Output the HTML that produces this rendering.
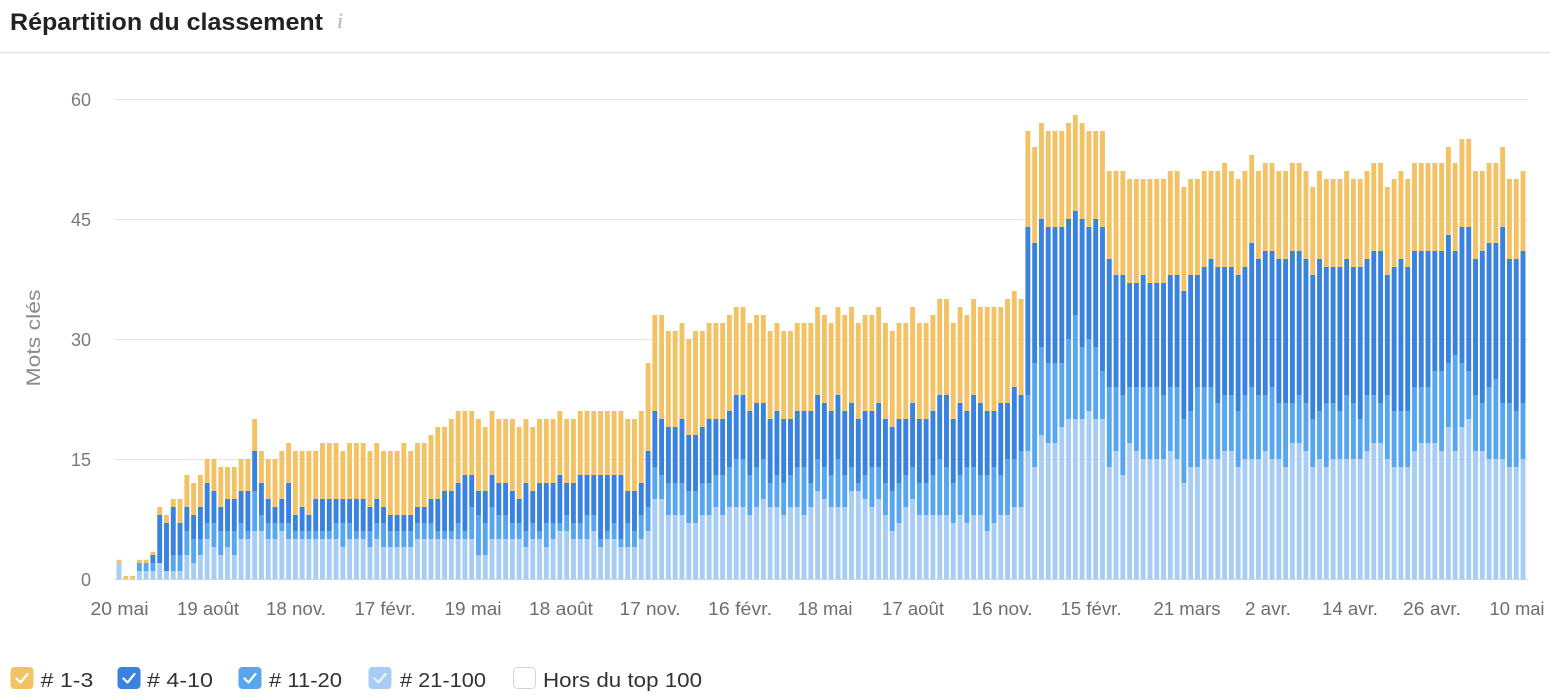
<!DOCTYPE html>
<html>
<head>
<meta charset="utf-8">
<style>
  html,body{margin:0;padding:0;background:#fff;}
  body{width:1550px;height:700px;overflow:hidden;}
  svg{display:block;}
  text{font-family:"Liberation Sans",sans-serif;}
</style>
</head>
<body>
<svg id="chart" width="1550" height="700" viewBox="0 0 1550 700" xmlns="http://www.w3.org/2000/svg">
  <rect x="0" y="0" width="1550" height="700" fill="#ffffff"/>
  <!-- Title -->
  <text x="10" y="30" font-size="24" font-weight="bold" fill="#222222" textLength="313" lengthAdjust="spacingAndGlyphs">Répartition du classement</text>
  <text x="337" y="28" font-size="22" font-style="italic" fill="#b3b3b3" style="font-family:'Liberation Serif',serif;">i</text>
  <line x1="0" y1="52.5" x2="1550" y2="52.5" stroke="#e4e4e4" stroke-width="1.5"/>

  <!-- Gridlines -->
  <g stroke="#e3e7ec" stroke-width="1">
    <line x1="115" y1="99.5" x2="1528" y2="99.5"/>
    <line x1="115" y1="219.5" x2="1528" y2="219.5"/>
    <line x1="115" y1="339.5" x2="1528" y2="339.5"/>
    <line x1="115" y1="459.5" x2="1528" y2="459.5"/>
  </g>
  <line x1="115" y1="579.5" x2="1528" y2="579.5" stroke="#c9d5e3" stroke-width="1"/>

  <!-- Y labels -->
  <g font-size="18" fill="#7a7a7a" text-anchor="end">
    <text x="91" y="106">60</text>
    <text x="91" y="226">45</text>
    <text x="91" y="346">30</text>
    <text x="91" y="466">15</text>
    <text x="91" y="586">0</text>
  </g>
  <text transform="translate(40,338) rotate(-90)" font-size="19" fill="#8a8a8a" text-anchor="middle" textLength="97" lengthAdjust="spacingAndGlyphs">Mots clés</text>

  <g id="bars"></g>

  <!-- X labels -->
  <g font-size="18" fill="#6e6e6e" text-anchor="middle">
    <text x="119.5" y="615" textLength="58" lengthAdjust="spacingAndGlyphs">20 mai</text>
    <text x="208" y="615" textLength="62" lengthAdjust="spacingAndGlyphs">19 août</text>
    <text x="296" y="615" textLength="60" lengthAdjust="spacingAndGlyphs">18 nov.</text>
    <text x="385" y="615" textLength="61" lengthAdjust="spacingAndGlyphs">17 févr.</text>
    <text x="473" y="615" textLength="57" lengthAdjust="spacingAndGlyphs">19 mai</text>
    <text x="561" y="615" textLength="64" lengthAdjust="spacingAndGlyphs">18 août</text>
    <text x="650" y="615" textLength="61" lengthAdjust="spacingAndGlyphs">17 nov.</text>
    <text x="740" y="615" textLength="64" lengthAdjust="spacingAndGlyphs">16 févr.</text>
    <text x="825" y="615" textLength="55" lengthAdjust="spacingAndGlyphs">18 mai</text>
    <text x="913" y="615" textLength="62" lengthAdjust="spacingAndGlyphs">17 août</text>
    <text x="1002" y="615" textLength="61" lengthAdjust="spacingAndGlyphs">16 nov.</text>
    <text x="1091" y="615" textLength="61" lengthAdjust="spacingAndGlyphs">15 févr.</text>
    <text x="1187" y="615" textLength="67" lengthAdjust="spacingAndGlyphs">21 mars</text>
    <text x="1268" y="615" textLength="46" lengthAdjust="spacingAndGlyphs">2 avr.</text>
    <text x="1350" y="615" textLength="56" lengthAdjust="spacingAndGlyphs">14 avr.</text>
    <text x="1432" y="615" textLength="58" lengthAdjust="spacingAndGlyphs">26 avr.</text>
    <text x="1517" y="615" textLength="55" lengthAdjust="spacingAndGlyphs">10 mai</text>
  </g>

  <!-- Legend -->
  <g>
    <rect x="10.5" y="667" width="23" height="22" rx="4" fill="#F3C265"/>
    <polyline points="16.5,678.5 20.5,682.5 27.5,674" fill="none" stroke="#ffffff" stroke-width="2.2" stroke-linecap="round" stroke-linejoin="round"/>
    <text x="40.7" y="687" font-size="20.5" fill="#333333" textLength="52.6" lengthAdjust="spacingAndGlyphs"># 1-3</text>

    <rect x="117.5" y="667" width="23" height="22" rx="4" fill="#3A82E0"/>
    <polyline points="123.5,678.5 127.5,682.5 134.5,674" fill="none" stroke="#ffffff" stroke-width="2.2" stroke-linecap="round" stroke-linejoin="round"/>
    <text x="147" y="687" font-size="20.5" fill="#333333" textLength="66" lengthAdjust="spacingAndGlyphs"># 4-10</text>

    <rect x="238.5" y="667" width="23" height="22" rx="4" fill="#58A6EF"/>
    <polyline points="244.5,678.5 248.5,682.5 255.5,674" fill="none" stroke="#ffffff" stroke-width="2.2" stroke-linecap="round" stroke-linejoin="round"/>
    <text x="269" y="687" font-size="20.5" fill="#333333" textLength="73" lengthAdjust="spacingAndGlyphs"># 11-20</text>

    <rect x="368.5" y="667" width="23" height="22" rx="4" fill="#A7CDF5"/>
    <polyline points="374.5,678.5 378.5,682.5 385.5,674" fill="none" stroke="#eaf4ff" stroke-width="2.2" stroke-linecap="round" stroke-linejoin="round"/>
    <text x="400" y="687" font-size="20.5" fill="#333333" textLength="86" lengthAdjust="spacingAndGlyphs"># 21-100</text>

    <rect x="513.5" y="667.5" width="22" height="21" rx="4" fill="#ffffff" stroke="#d4d4d4" stroke-width="1"/>
    <text x="543" y="687" font-size="20.5" fill="#333333" textLength="159" lengthAdjust="spacingAndGlyphs">Hors du top 100</text>
  </g>
</svg>
<script>
(function(){
  var D=[
[2,2,2,2.4],[0,0,0,0.4],[0,0,0,0.4],[1,2,2,2.4],[1,2,2,2.4],[1,2,3,3.4],[2,2,8,9],[1,1,7,8],[1,3,9,10],[1,3,7,10],
[3,6,9,13],[2,5,8,12],[3,5,9,13],[5,7,12,15],[4,7,11,15],[3,6,9,14],[4,6,10,14],[3,6,10,14],[5,7,11,15],[5,6,11,15],
[6,11,16,20],[6,8,12,16],[5,7,10,15],[5,7,9,15],[6,7,10,16],[5,7,12,17],[5,6,8,16],[5,6,9,16],[5,6,8,16],[5,6,10,16],
[5,6,10,17],[5,6,10,17],[5,7,10,17],[4,7,10,16],[5,7,10,17],[5,6,10,17],[5,6,10,17],[4,6,9,16],[5,7,10,17],[4,7,9,16],
[4,6,8,16],[4,6,8,16],[4,6,8,17],[4,6,8,16],[5,7,9,17],[5,7,9,17],[5,7,10,18],[5,6,10,19],[5,6,11,19],[5,6,11,20],
[5,7,12,21],[5,6,13,21],[5,9,13,21],[3,8,11,20],[3,7,11,19],[5,9,13,21],[5,8,12,20],[5,8,12,20],[5,7,11,20],[5,7,10,19],
[4,6,12,20],[5,7,11,19],[5,6,12,20],[4,7,12,20],[5,7,12,20],[6,7,13,21],[6,8,12,20],[5,7,12,20],[5,7,13,21],[5,8,13,21],
[6,8,13,21],[4,5,13,21],[5,6,13,21],[5,7,13,21],[4,5,13,21],[4,7,11,20],[4,6,11,20],[5,8,12,21],[6,9,16,27],[10,14,21,33],
[10,13,20,33],[8,12,19,31],[8,12,19,31],[8,12,20,32],[7,11,18,30],[7,11,18,31],[8,12,19,31],[8,12,20,32],[9,13,20,32],[8,13,20,32],
[9,14,21,33],[9,15,23,34],[9,15,23,34],[8,13,21,32],[9,14,22,33],[10,15,22,33],[9,12,20,31],[9,13,21,32],[8,12,20,31],[9,13,20,31],
[9,14,21,32],[8,14,21,32],[9,12,21,32],[11,15,23,34],[10,14,22,33],[9,13,21,32],[9,15,23,34],[9,13,21,33],[11,14,22,34],[11,12,20,32],
[10,13,21,33],[9,14,21,33],[10,14,22,34],[8,12,20,32],[6,11,19,31],[7,12,20,32],[9,13,20,32],[10,14,22,34],[8,12,20,32],[8,12,20,32],
[8,13,21,33],[8,15,23,35],[8,14,23,35],[7,12,20,32],[8,13,22,34],[7,14,21,33],[8,14,23,35],[8,13,22,34],[6,13,21,34],[7,14,21,34],
[8,13,22,34],[8,15,22,35],[9,15,24,36],[9,16,23,35],[16,23,44,56],[14,27,42,54],[18,29,45,57],[17,27,44,56],[17,27,44,56],[19,27,44,56],
[20,30,45,57],[20,33,46,58],[20,29,45,57],[21,30,44,56],[20,29,45,56],[20,26,44,56],[14,24,40,51],[16,24,38,51],[13,23,38,51],[17,24,37,50],
[16,24,37,50],[15,24,38,50],[15,24,37,50],[15,24,37,50],[15,23,37,50],[16,24,38,51],[15,24,38,51],[12,20,36,49],[14,21,38,50],[14,24,38,50],
[15,24,39,51],[15,24,40,51],[15,22,39,51],[16,23,39,52],[16,23,39,51],[14,21,38,50],[15,23,39,51],[15,24,42,53],[15,23,40,51],[16,23,41,52],
[15,24,41,52],[15,22,40,51],[14,22,40,51],[17,22,41,52],[17,23,41,52],[16,22,40,51],[14,20,38,49],[15,21,40,51],[14,22,39,50],[15,22,39,50],
[15,21,39,50],[15,23,40,51],[15,22,39,50],[15,20,39,50],[16,23,40,51],[17,23,41,52],[17,22,41,52],[15,23,38,49],[14,21,39,50],[14,21,40,51],
[14,21,39,50],[16,24,41,52],[17,24,41,52],[17,24,41,52],[17,26,41,52],[16,26,41,52],[19,27,43,54],[16,28,41,52],[19,27,44,55],[20,26,44,55],
[16,23,40,51],[16,22,41,51],[15,24,42,52],[15,25,42,52],[15,22,44,54],[14,22,40,50],[14,21,40,50],[15,22,41,51]
  ];
  var C=["#A7CDF5","#58A6EF","#3A82E0","#F3C265"];
  var base=579, u=8, x0=119, pitch=(1523-119)/(D.length-1), w=4.9;
  var s="";
  for(var i=0;i<D.length;i++){
    var cx=x0+i*pitch, x=(cx-w/2).toFixed(2);
    var prev=0;
    for(var k=0;k<4;k++){
      var v=D[i][k];
      if(v>prev){
        var yTop=base-v*u, h=(v-prev)*u;
        s+='<rect x="'+x+'" y="'+yTop.toFixed(2)+'" width="'+w+'" height="'+h.toFixed(2)+'" fill="'+C[k]+'"/>';
        prev=v;
      }
    }
  }
  document.getElementById("bars").innerHTML=s;
})();
</script>
</body>
</html>
